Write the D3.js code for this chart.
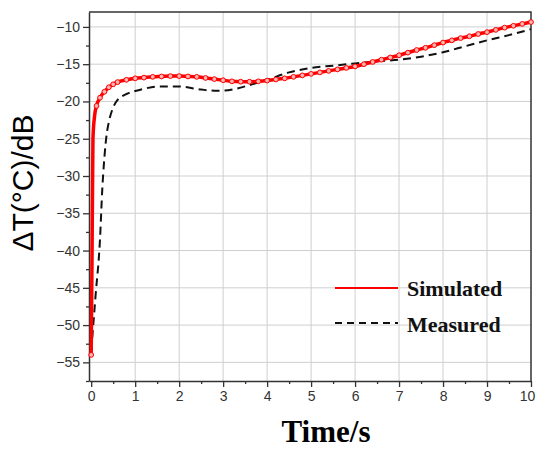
<!DOCTYPE html>
<html>
<head>
<meta charset="utf-8">
<script src="https://cdn.jsdelivr.net/npm/d3@7"></script>
<style>
  body { margin: 0; background: #fff; }
</style>
</head>
<body>
<div class="chart-container"></div>
<script>
// time axis (s) and values (dB)
const simTime = [0, 0.02, 0.04, 0.08, 0.12, 0.2, 0.3, 0.4, 0.5, 0.6, 0.8, 1.0, 1.2, 1.4, 1.6, 1.8,
  2.0, 2.2, 2.4, 2.6, 2.8, 3.0, 3.2, 3.4, 3.6, 3.8, 4.0, 4.2, 4.4, 4.6, 4.8, 5.0, 5.2, 5.4, 5.6, 5.8,
  6.0, 6.2, 6.4, 6.6, 6.8, 7.0, 7.2, 7.4, 7.6, 7.8, 8.0, 8.2, 8.4, 8.6, 8.8, 9.0, 9.2, 9.4, 9.6, 9.8, 10.0];
const simValues = [-54, -40, -25, -21.8, -20.6, -19.5, -18.7, -18.1, -17.7, -17.4, -17.1, -16.9, -16.8, -16.7, -16.65, -16.6,
  -16.6, -16.65, -16.7, -16.85, -17.0, -17.15, -17.3, -17.35, -17.35, -17.3, -17.2, -17.05, -16.9, -16.7, -16.5, -16.3, -16.1, -15.9, -15.7, -15.5,
  -15.3, -15.0, -14.7, -14.4, -14.1, -13.8, -13.45, -13.1, -12.8, -12.45, -12.1, -11.8, -11.5, -11.25, -10.95, -10.7, -10.4, -10.1, -9.85, -9.6, -9.35];

const measTime = [0, 0.1, 0.2, 0.25, 0.3, 0.35, 0.4, 0.5, 0.6, 0.7, 0.8, 1.0, 1.2, 1.5, 2.0, 2.5, 2.8, 3.0, 3.3, 3.6,
  4.0, 4.5, 5.0, 5.5, 6.0, 6.5, 7.0, 7.5, 8.0, 8.5, 9.0, 9.5, 10.0];
const measValues = [-53.5, -46, -38.5, -32, -27.5, -24.5, -22.8, -20.8, -19.8, -19.3, -19.0, -18.6, -18.3, -18.0, -18.0, -18.4, -18.55, -18.55, -18.3, -17.8,
  -17.1, -16.1, -15.5, -15.2, -14.9, -14.6, -14.4, -14.0, -13.4, -12.6, -11.8, -11.1, -10.3];

const xTicks = [0, 1, 2, 3, 4, 5, 6, 7, 8, 9, 10];
const yTicks = [-55, -50, -45, -40, -35, -30, -25, -20, -15, -10];
const seriesNames = ['Simulated', 'Measured'];

const width = 537;
const height = 451;
const plot = { left: 89, right: 531, top: 12, bottom: 381 };

const x = d3.scaleLinear().domain([-0.05, 10]).range([plot.left, plot.right]);
const y = d3.scaleLinear().domain([-57.5, -8]).range([plot.bottom, plot.top]);

const svg = d3.select('.chart-container')
  .append('svg')
  .attr('width', width)
  .attr('height', height)
  .attr('viewBox', [0, 0, width, height]);

// grid
svg.append('g')
  .selectAll('line')
  .data(xTicks.filter(d => d > 0 && d < 10))
  .join('line')
    .attr('x1', d => x(d)).attr('x2', d => x(d))
    .attr('y1', plot.top).attr('y2', plot.bottom)
    .attr('stroke', '#cfcfcf').attr('stroke-width', 1);

svg.append('g')
  .selectAll('line')
  .data(yTicks)
  .join('line')
    .attr('x1', plot.left).attr('x2', plot.right)
    .attr('y1', d => y(d)).attr('y2', d => y(d))
    .attr('stroke', '#cfcfcf').attr('stroke-width', 1);

// axes
const xAxis = d3.axisBottom(x).tickValues(xTicks).tickSize(6).tickSizeOuter(0).tickPadding(4);
const yAxis = d3.axisLeft(y).tickValues(yTicks).tickSize(6).tickSizeOuter(0).tickPadding(3);

const gx = svg.append('g').attr('transform', `translate(0,${plot.bottom})`).call(xAxis);
const gy = svg.append('g').attr('transform', `translate(${plot.left},0)`).call(yAxis);

// the last label sits against the page edge, as in the original
gx.selectAll('.tick text').filter(d => d === 10).attr('dx', -4);

// minor ticks
svg.append('g').attr('transform', `translate(0,${plot.bottom})`)
  .call(d3.axisBottom(x).tickValues(d3.range(0.5, 10, 1)).tickSize(3).tickSizeOuter(0).tickFormat(''))
  .select('.domain').remove();
svg.append('g').attr('transform', `translate(${plot.left},0)`)
  .call(d3.axisLeft(y).tickValues(d3.range(-57.5, -8, 5)).tickSize(3).tickSizeOuter(0).tickFormat(''))
  .select('.domain').remove();

svg.selectAll('.tick line').attr('stroke', '#333').attr('stroke-width', 1.3);
[gx, gy].forEach(g => {
  g.select('.domain').attr('stroke', '#333').attr('stroke-width', 1.5);
  g.selectAll('text')
    .attr('font-family', 'Liberation Sans, Arial, sans-serif')
    .attr('font-size', 14)
    .attr('fill', '#333');
});

// frame top / right
svg.append('path')
  .attr('d', `M${plot.left},${plot.top}H${plot.right}V${plot.bottom}`)
  .attr('fill', 'none')
  .attr('stroke', '#333')
  .attr('stroke-width', 1.5);

// lines
const measured = measTime.map((t, i) => [t, measValues[i]]);
const simulated = simTime.map((t, i) => [t, simValues[i]]);

const line = d3.line()
  .x(d => x(d[0]))
  .y(d => y(d[1]))
  .curve(d3.curveMonotoneX);

svg.append('path')
  .datum(measured)
  .attr('d', line)
  .attr('fill', 'none')
  .attr('stroke', '#111')
  .attr('stroke-width', 2)
  .attr('stroke-dasharray', '8,5');

svg.append('path')
  .datum(simulated)
  .attr('d', line)
  .attr('fill', 'none')
  .attr('stroke', '#f00')
  .attr('stroke-width', 3.5);

svg.append('g')
  .selectAll('circle')
  .data(simulated.filter((d, i) => i === 0 || i > 3))
  .join('circle')
    .attr('cx', d => x(d[0]))
    .attr('cy', d => y(d[1]))
    .attr('r', 2.4)
    .attr('fill', '#ffb3b3')
    .attr('stroke', '#f00')
    .attr('stroke-width', 1);

// axis titles
svg.append('text')
  .attr('x', 326)
  .attr('y', 442)
  .attr('text-anchor', 'middle')
  .attr('font-family', 'Liberation Serif, Times New Roman, serif')
  .attr('font-weight', 'bold')
  .attr('font-size', 31)
  .text('Time/s');

svg.append('text')
  .attr('transform', 'translate(33,183) rotate(-90)')
  .attr('text-anchor', 'middle')
  .attr('font-family', 'Liberation Sans, Arial, sans-serif')
  .attr('font-size', 30)
  .text('ΔT(°C)/dB');

// legend
const legend = svg.append('g');
legend.selectAll('line')
  .data(seriesNames)
  .join('line')
    .attr('x1', 335).attr('x2', 398)
    .attr('y1', (d, i) => 288 + i * 35)
    .attr('y2', (d, i) => 288 + i * 35)
    .attr('stroke', (d, i) => i === 0 ? '#f00' : '#111')
    .attr('stroke-width', 2)
    .attr('stroke-dasharray', (d, i) => i === 0 ? null : '7,5');

legend.selectAll('text')
  .data(seriesNames)
  .join('text')
    .attr('x', 407)
    .attr('y', (d, i) => 296 + i * 36)
    .attr('font-family', 'Liberation Serif, Times New Roman, serif')
    .attr('font-weight', 'bold')
    .attr('font-size', 22)
    .attr('fill', '#111')
    .text(d => d);
</script>
</body>
</html>
